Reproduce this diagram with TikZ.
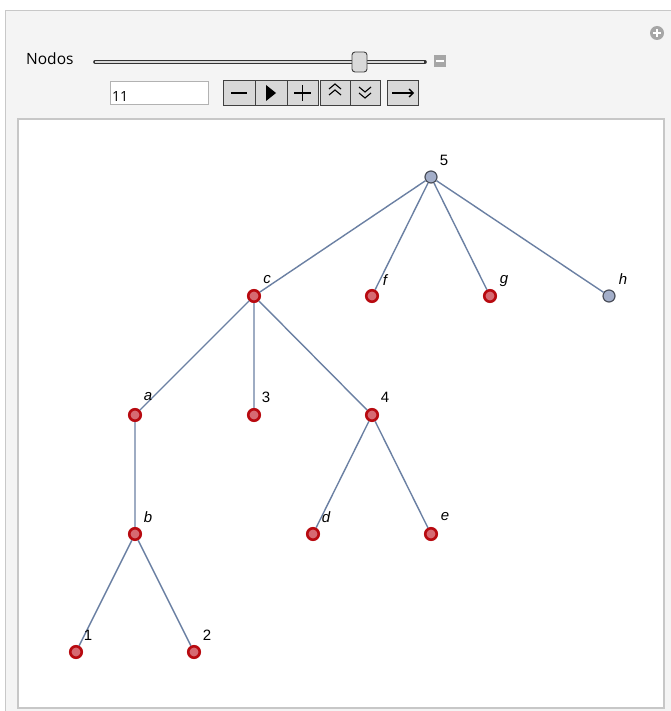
\documentclass[tikz,border=0pt]{standalone}
\usepackage{fontspec}
\usetikzlibrary{arrows.meta}
\setmainfont{Liberation Sans}
\newfontfamily\uifont{Open Sans}
\definecolor{edgec}{HTML}{6B80A3}
\definecolor{redfill}{HTML}{D66A72}
\definecolor{reddraw}{HTML}{B80A10}
\definecolor{grayfill}{HTML}{A3AEC9}
\definecolor{graydraw}{HTML}{4A4F5A}
\definecolor{panelbg}{HTML}{F4F4F4}
\definecolor{panelborder}{HTML}{C8C8C8}
\definecolor{btnfill}{HTML}{D8D8D8}
\begin{document}
\begin{tikzpicture}[x=1pt,y=-1pt,
  rnode/.style={circle,fill=redfill,draw=reddraw,line width=2.6pt,inner sep=0pt,minimum size=11.5pt},
  gnode/.style={circle,fill=grayfill,draw=graydraw,line width=1.2pt,inner sep=0pt,minimum size=12pt},
  edge/.style={draw=edgec,line width=1.4pt},
  lab/.style={font=\fontsize{15}{17}\selectfont,inner sep=0pt,anchor=center},
  btn/.style={draw=black!75,fill=btnfill,line width=0.8pt,minimum height=25pt,inner sep=0pt}]
\useasboundingbox (0,0) rectangle (670,711);
\fill[white] (0,0) rectangle (670,711);
% outer panel
\filldraw[fill=panelbg,draw=panelborder,line width=0.8pt] (5,10) rectangle (672,713);
% plus icon
\fill[black!35] (657,33) circle (7pt);
\draw[white,line width=1.6pt] (653,33) -- (661,33) (657,29) -- (657,37);
% Nodos slider
\node[anchor=west,inner sep=0pt,font=\uifont\fontsize{15.5}{17}\selectfont] (nodos) at (26,59) {Nodos};
\draw[black!80,line width=3.6pt,line cap=round] (95,62) -- (425,62);
\draw[white!85!black,line width=1.1pt] (95,62) -- (424,62);
\node[draw=black!75,fill=white!85!black,rounded corners=3pt,minimum width=15pt,minimum height=20pt,inner sep=0pt,line width=0.9pt] (thumb) at (359.5,62) {};
\node[fill=black!35,minimum width=12pt,minimum height=12pt,inner sep=0pt] (minus) at (440,61) {};
\draw[white,line width=1.4pt] (436,61) -- (444,61);
% input box
\node[draw=black!30,fill=white,minimum width=98pt,minimum height=23pt,inner sep=0pt,line width=0.9pt] (inp) at (159,92.5) {};
\node[anchor=west,inner sep=0pt,font=\uifont\fontsize{14}{16}\selectfont] (inptxt) at (112,97) {11};
% buttons
\node[btn,minimum width=32pt] (b1) at (239,93) {};
\node[btn,minimum width=32pt] (b2) at (271,93) {};
\node[btn,minimum width=31pt] (b3) at (302.5,93) {};
\node[btn,minimum width=30pt] (b4) at (335,93) {};
\node[btn,minimum width=30pt] (b5) at (365,93) {};
\node[btn,minimum width=31pt] (b6) at (402.5,93) {};
\draw[black,line width=1.2pt] (231,93) -- (247,93);
\fill[black] (266,85) -- (266,101) -- (276,93) -- cycle;
\draw[black,line width=1.2pt] (294,93) -- (311,93) (302.5,85) -- (302.5,101);
\draw[black,line width=1.1pt] (329,89) -- (335,84) -- (341,89) (329,95) -- (335,90) -- (341,95);
\draw[black,line width=1.1pt] (359,87) -- (365,92) -- (371,87) (359,93) -- (365,98) -- (371,93);
\draw[black,line width=1.3pt,-{Straight Barb[length=4pt,width=8pt]}] (392,93) -- (414,93);
% plot area
\filldraw[fill=white,draw=black!22,line width=2pt] (18,119) rectangle (664,708);
% graph nodes
\node[gnode] (n5) at (431,177) {};
\node[rnode] (nc) at (254,296) {};
\node[rnode] (nf) at (372,296) {};
\node[rnode] (ng) at (490,296) {};
\node[gnode] (nh) at (609,296) {};
\node[rnode] (na) at (135,415) {};
\node[rnode] (n3) at (254,415) {};
\node[rnode] (n4) at (372,415) {};
\node[rnode] (nb) at (135,534) {};
\node[rnode] (nd) at (313,534) {};
\node[rnode] (ne) at (431,534) {};
\node[rnode] (n1) at (76,652) {};
\node[rnode] (n2) at (194,652) {};
% edges
\path[edge] (n5) -- (nc) (n5) -- (nf) (n5) -- (ng) (n5) -- (nh)
  (nc) -- (na) (nc) -- (n3) (nc) -- (n4)
  (na) -- (nb) (n4) -- (nd) (n4) -- (ne)
  (nb) -- (n1) (nb) -- (n2);
% labels
\node[lab] (l5) at (444,160) {5};
\node[lab] (lc) at (267,280) {\itshape c};
\node[lab] (lf) at (385,280) {\itshape f};
\node[lab] (lg) at (504,281) {\itshape g};
\node[lab] (lh) at (623,279) {\itshape h};
\node[lab] (la) at (148,397) {\itshape a};
\node[lab] (l3) at (266,397) {3};
\node[lab] (l4) at (385,397) {4};
\node[lab] (lb) at (148,517) {\itshape b};
\node[lab] (ld) at (326,517) {\itshape d};
\node[lab] (le) at (445,517) {\itshape e};
\node[lab] (l1) at (88,635) {1};
\node[lab] (l2) at (207,635) {2};
\end{tikzpicture}
\end{document}
